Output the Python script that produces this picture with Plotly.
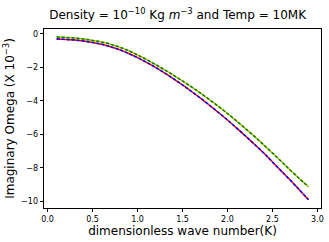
import plotly.graph_objects as go

k = [0.1, 0.2, 0.3, 0.4, 0.5, 0.6, 0.7, 0.8, 0.9, 1.0, 1.1, 1.2, 1.3, 1.4, 1.5,
     1.6, 1.7, 1.8, 1.9, 2.0, 2.1, 2.2, 2.3, 2.4, 2.5, 2.6, 2.7, 2.8, 2.9]

omega_a = [-0.32, -0.34, -0.38, -0.44, -0.52, -0.63, -0.78, -0.96, -1.18, -1.43,
           -1.71, -2.01, -2.34, -2.69, -3.06, -3.45, -3.85, -4.27, -4.70, -5.15,
           -5.62, -6.10, -6.60, -7.10, -7.65, -8.20, -8.75, -9.32, -9.90]

omega_b = [-0.20, -0.22, -0.26, -0.32, -0.40, -0.50, -0.63, -0.80, -1.02, -1.27,
           -1.54, -1.84, -2.15, -2.48, -2.82, -3.18, -3.55, -3.94, -4.34, -4.76,
           -5.20, -5.66, -6.13, -6.62, -7.12, -7.63, -8.15, -8.65, -9.13]

fig = go.Figure()
fig.add_trace(go.Scatter(x=k, y=omega_a, mode="lines",
                         line=dict(color="#ff0000", width=1.5, shape="spline")))
fig.add_trace(go.Scatter(x=k, y=omega_a, mode="lines",
                         line=dict(color="#0000ff", width=1.5, dash="3px,2px", shape="spline")))
fig.add_trace(go.Scatter(x=k, y=omega_b, mode="lines",
                         line=dict(color="#bfbf00", width=1.5, shape="spline")))
fig.add_trace(go.Scatter(x=k, y=omega_b, mode="lines",
                         line=dict(color="#008000", width=1.5, dash="3px,2px", shape="spline")))

axis_common = dict(showline=True, linecolor="black", linewidth=0.8, mirror=True,
                   ticks="outside", ticklen=3.5, tickwidth=0.8, tickcolor="black",
                   showgrid=False, zeroline=False, automargin=False,
                   tickfont=dict(family="DejaVu Sans", size=8, color="black"))

fig.update_layout(
    width=329, height=242,
    margin=dict(l=44, r=8, t=29, b=34),
    plot_bgcolor="white", paper_bgcolor="white",
    showlegend=False,
    title=dict(text="Density = 10<sup>−10</sup> Kg <i>m</i><sup>−3</sup> and Temp = 10MK",
               x=0.54, xanchor="center", y=0.955, yanchor="top",
               font=dict(family="DejaVu Sans", size=12, color="black")),
    xaxis=dict(range=[-0.04, 3.04], tickvals=[0, 0.5, 1, 1.5, 2, 2.5, 3],
               ticktext=["0.0", "0.5", "1.0", "1.5", "2.0", "2.5", "3.0"],
               title=dict(text="dimensionless wave number(K)", standoff=2,
                          font=dict(family="DejaVu Sans", size=12, color="black")),
               **axis_common),
    yaxis=dict(range=[-10.4, 0.28], tickvals=[0, -2, -4, -6, -8, -10],
               ticktext=["0", "−2", "−4", "−6", "−8", "−10"],
               title=dict(text="Imaginary Omega (X 10<sup>−3</sup>)", standoff=3,
                          font=dict(family="DejaVu Sans", size=12, color="black")),
               **axis_common),
)

fig.write_html("out.html", config={"displayModeBar": False},
               post_script="document.body.style.margin='0';document.body.style.overflow='hidden';")
